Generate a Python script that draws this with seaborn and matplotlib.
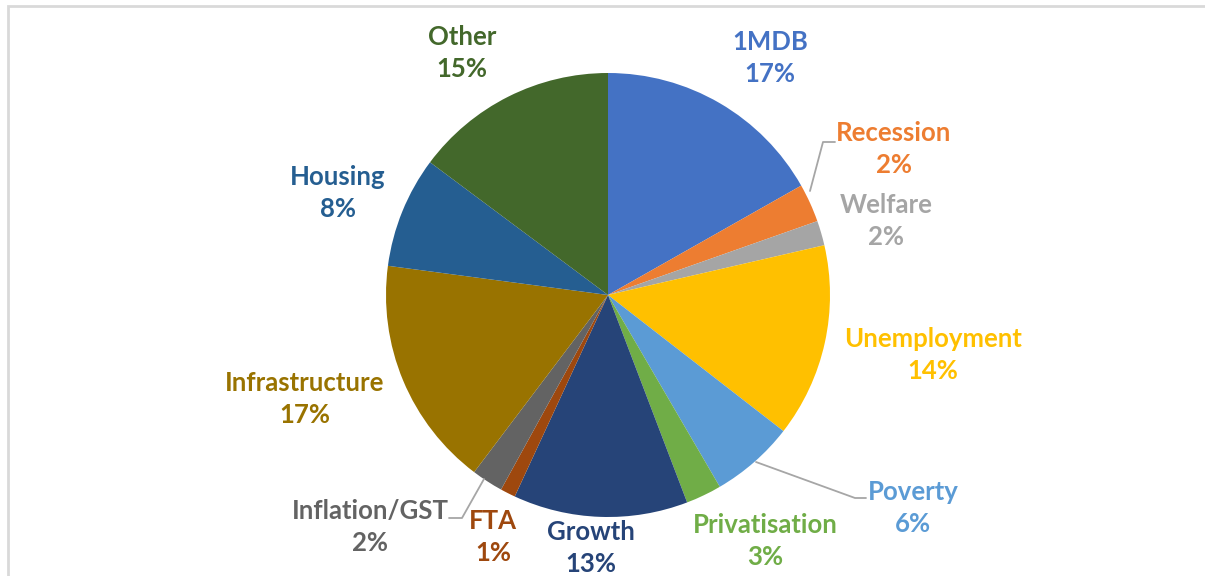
import seaborn as sns
import matplotlib.pyplot as plt
from matplotlib.patches import Rectangle

# Данные
topics = ['1MDB', 'Recession', 'Welfare', 'Unemployment', 'Poverty', 'Privatisation',
          'Growth', 'FTA', 'Inflation/GST', 'Infrastructure', 'Housing', 'Other']
# доли, оцененные по углам секторов
shares = [16.8, 2.8, 1.8, 14.1, 6.1, 2.6, 12.7, 1.1, 2.3, 16.8, 8.1, 14.8]
# подписи в процентах, как на графике
pct_labels = ['17%', '2%', '2%', '14%', '6%', '3%', '13%', '1%', '2%', '17%', '8%', '15%']
colors = ['#4472C4', '#ED7D31', '#A5A5A5', '#FFC000', '#5B9BD5', '#70AD47',
          '#264478', '#9E480E', '#636363', '#997300', '#255E91', '#43682B']

# Положение подписей (в пикселях, y сверху вниз)
label_pos = {
    '1MDB': (770, 58), 'Recession': (894, 149), 'Welfare': (886, 221),
    'Unemployment': (933, 355), 'Poverty': (913, 508), 'Privatisation': (765, 541),
    'Growth': (591, 548), 'FTA': (493, 537), 'Inflation/GST': (370, 527),
    'Infrastructure': (305, 399), 'Housing': (338, 193), 'Other': (462, 53),
}
# выноски
leaders = {
    'Recession': [(810, 191), (823, 142), (835, 142)],
    'Inflation/GST': [(484, 479), (462, 518), (449, 518)],
    'Poverty': [(756, 462), (855, 498), (866, 498)],
}

W, H = 1205, 576
sns.set_style('white')
plt.rcParams['font.family'] = ['Lato', 'DejaVu Sans']

fig = plt.figure(figsize=(W / 100, H / 100), dpi=100)
ax = fig.add_axes([0, 0, 1, 1])

ax.pie(shares, colors=colors, startangle=90, counterclock=False,
       center=(608, H - 295), radius=222, frame=True,
       wedgeprops=dict(linewidth=0))

for name, pct, col in zip(topics, pct_labels, colors):
    x, y = label_pos[name]
    ax.text(x, H - y, f'{name}\n{pct}', color=col, ha='center', va='center',
            fontsize=18.5, fontweight='bold', linespacing=1.42)

for name, pts in leaders.items():
    ax.plot([p[0] for p in pts], [H - p[1] for p in pts], color='#A6A6A6', lw=1.3)

ax.set_xlim(0, W)
ax.set_ylim(0, H)
ax.set_aspect('equal')
ax.axis('off')

# рамка области диаграммы
ax.add_patch(Rectangle((8, -10), W + 20, H - 6 + 10, fill=False,
                       edgecolor='#D9D9D9', lw=2, clip_on=False))

fig.savefig('out.png', dpi=100)
